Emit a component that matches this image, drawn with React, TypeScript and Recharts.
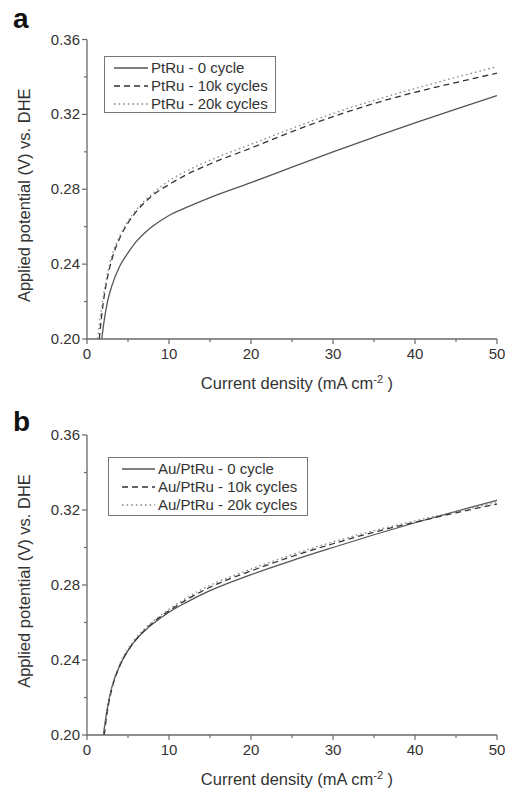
import React from 'react';
import { LineChart, Line, XAxis, YAxis, Legend } from 'recharts';

// ---------- data ----------
const xTicks = [0, 5, 10, 15, 20, 25, 30, 35, 40, 45, 50];
const xLabelTicks = [0, 10, 20, 30, 40, 50];
const yTicks = [0.2, 0.22, 0.24, 0.26, 0.28, 0.3, 0.32, 0.34, 0.36];
const yLabelTicks = [0.2, 0.24, 0.28, 0.32, 0.36];

// Panel a
const aLabels = ['PtRu - 0 cycle', 'PtRu - 10k cycles', 'PtRu - 20k cycles'];
const a0X = [1.8, 2.0, 2.5, 3, 4, 5, 6, 7, 8, 10, 12, 15, 20, 25, 30, 35, 40, 45, 50];
const a0V = [0.2, 0.207, 0.22, 0.228, 0.239, 0.246, 0.252, 0.2565, 0.2602, 0.266, 0.27, 0.2755, 0.2835, 0.2918, 0.3, 0.3078, 0.3154, 0.3228, 0.33];
const a10X = [1.5, 1.8, 2.0, 2.5, 3, 4, 5, 6, 7, 8, 10, 12, 15, 20, 25, 30, 35, 40, 45, 50];
const a10V = [0.2, 0.213, 0.22, 0.233, 0.242, 0.254, 0.262, 0.268, 0.2728, 0.2768, 0.2825, 0.2875, 0.2935, 0.302, 0.3108, 0.3188, 0.3258, 0.3318, 0.337, 0.342];
const a20X = [1.3, 1.5, 1.8, 2.0, 2.5, 3, 4, 5, 6, 7, 8, 10, 12, 15, 20, 25, 30, 35, 40, 45, 50];
const a20V = [0.2, 0.208, 0.217, 0.223, 0.235, 0.244, 0.255, 0.263, 0.269, 0.2738, 0.2778, 0.2845, 0.2895, 0.2955, 0.304, 0.3125, 0.3205, 0.3275, 0.3338, 0.3398, 0.3455];

// Panel b
const bLabels = ['Au/PtRu - 0 cycle', 'Au/PtRu - 10k cycles', 'Au/PtRu - 20k cycles'];
const b0X = [2.0, 2.5, 3, 4, 5, 6, 7, 8, 10, 12, 15, 20, 25, 30, 35, 40, 45, 50];
const b0V = [0.2, 0.215, 0.225, 0.237, 0.245, 0.251, 0.2555, 0.2592, 0.2655, 0.2705, 0.277, 0.2855, 0.293, 0.3, 0.3068, 0.3132, 0.3193, 0.3252];
const b10X = [2.1, 2.5, 3, 4, 5, 6, 7, 8, 10, 12, 15, 20, 25, 30, 35, 40, 45, 50];
const b10V = [0.2, 0.213, 0.224, 0.237, 0.245, 0.251, 0.2558, 0.2598, 0.2662, 0.2718, 0.2788, 0.2875, 0.2952, 0.302, 0.3082, 0.3135, 0.3185, 0.3232];
const b20X = [2.0, 2.5, 3, 4, 5, 6, 7, 8, 10, 12, 15, 20, 25, 30, 35, 40, 45, 50];
const b20V = [0.2, 0.214, 0.225, 0.238, 0.246, 0.252, 0.2565, 0.2605, 0.267, 0.2728, 0.2798, 0.2885, 0.2962, 0.303, 0.309, 0.3142, 0.3192, 0.324];

const zip = (xs: number[], vs: number[]) => xs.map((x, i) => ({ x, v: vs[i] }));

// ---------- styles ----------
const FONT = '"Liberation Sans", Arial, Helvetica, sans-serif';
const AXIS = '#6a6a6a';
const TEXT = '#333';
const SERIES_STYLES = [
  { stroke: '#555', dash: undefined as string | undefined, width: 1.3 },
  { stroke: '#333', dash: '6 4', width: 1.3 },
  { stroke: '#888', dash: '1.6 3', width: 1.3 },
];

const isMajorX = (v: number) => xLabelTicks.some((t) => Math.abs(t - v) < 1e-6);
const isMajorY = (v: number) => yLabelTicks.some((t) => Math.abs(t - v) < 1e-6);

const BottomTick = (p: any) => {
  const { x, y, payload } = p;
  const major = isMajorX(payload.value);
  return (
    <g>
      <line x1={x} x2={x} y1={y} y2={y + (major ? 5 : 3)} stroke={AXIS} strokeWidth={1.2} />
      {major && (
        <text x={x} y={y + 20} textAnchor="middle" fontSize={15} fill={TEXT} fontFamily={FONT}>
          {payload.value}
        </text>
      )}
    </g>
  );
};

const TopTick = (p: any) => {
  const { x, y, payload } = p;
  const major = isMajorX(payload.value);
  return <line x1={x} x2={x} y1={y} y2={y + (major ? 4 : 3)} stroke={AXIS} strokeWidth={1.2} />;
};

const LeftTick = (p: any) => {
  const { x, y, payload } = p;
  const major = isMajorY(payload.value);
  return (
    <g>
      <line x1={x} x2={x - (major ? 5 : 3)} y1={y} y2={y} stroke={AXIS} strokeWidth={1.2} />
      {major && (
        <text x={x - 7} y={y + 5} textAnchor="end" fontSize={15} fill={TEXT} fontFamily={FONT}>
          {Number(payload.value).toFixed(2)}
        </text>
      )}
    </g>
  );
};

const RightTick = (p: any) => {
  const { x, y, payload } = p;
  const major = isMajorY(payload.value);
  return <line x1={x} x2={x - (major ? 4 : 3)} y1={y} y2={y} stroke={AXIS} strokeWidth={1.2} />;
};

type PanelProps = {
  letter: string;
  letterTop: number;
  labels: string[];
  series: { x: number; v: number }[][];
  marginTop: number;
  marginBottom: number;
  yTitleOffset: number;
  legendBox: { left: number; top: number; width: number; height: number; sampleLeft: number; sampleWidth: number };
};

const Panel = ({ letter, letterTop, labels, series, marginTop, marginBottom, yTitleOffset, legendBox }: PanelProps) => {
  const legendContent = () => (
    <div
      style={{
        width: legendBox.width,
        height: legendBox.height,
        boxSizing: 'border-box',
        border: '1.3px solid #777',
        paddingTop: 2,
        paddingLeft: legendBox.sampleLeft - 1,
        fontFamily: FONT,
        fontSize: 15,
        color: TEXT,
        background: '#fff',
      }}
    >
      {labels.map((l, i) => (
        <div key={l} style={{ display: 'flex', alignItems: 'center', height: 18, lineHeight: '18px' }}>
          <svg width={legendBox.sampleWidth} height={6} style={{ display: 'block' }}>
            <line
              x1={0}
              x2={legendBox.sampleWidth}
              y1={3}
              y2={3}
              stroke={SERIES_STYLES[i].stroke}
              strokeWidth={1.3}
              strokeDasharray={SERIES_STYLES[i].dash}
            />
          </svg>
          <span style={{ marginLeft: 3, whiteSpace: 'nowrap' }}>{l}</span>
        </div>
      ))}
    </div>
  );

  return (
    <div style={{ position: 'relative', width: 505, height: 394 }}>
      <div
        style={{
          position: 'absolute',
          left: 13,
          top: letterTop,
          fontFamily: FONT,
          fontWeight: 'bold',
          fontSize: 28,
          lineHeight: '30px',
          color: '#111',
          zIndex: 2,
        }}
      >
        {letter}
      </div>
      <LineChart width={505} height={394} margin={{ top: marginTop, right: 8, bottom: marginBottom, left: 27 }}>
        <XAxis
          xAxisId="bottom"
          dataKey="x"
          type="number"
          domain={[0, 50]}
          ticks={xTicks}
          interval={0}
          allowDataOverflow
          height={30}
          tickSize={0}
          tickMargin={0}
          tickLine={false}
          axisLine={{ stroke: AXIS, strokeWidth: 1.3 }}
          tick={<BottomTick />}
          label={{
            content: (props: any) => {
              const vb = props.viewBox || { x: 87, y: 339, width: 410 };
              return (
                <text
                  x={vb.x + vb.width / 2 + 5}
                  y={vb.y + 50}
                  textAnchor="middle"
                  fontSize={16.5}
                  fill={TEXT}
                  fontFamily={FONT}
                >
                  Current density (mA cm
                  <tspan dy={-6} fontSize={11}>
                    -2
                  </tspan>
                  <tspan dy={6}> )</tspan>
                </text>
              );
            },
          }}
        />
        <XAxis
          xAxisId="top"
          orientation="top"
          dataKey="x"
          type="number"
          domain={[0, 50]}
          ticks={xTicks}
          interval={0}
          allowDataOverflow
          height={0}
          tickSize={0}
          tickMargin={0}
          tickLine={false}
          axisLine={{ stroke: AXIS, strokeWidth: 1.3 }}
          tick={<TopTick />}
        />
        <YAxis
          yAxisId="left"
          type="number"
          domain={[0.2, 0.36]}
          ticks={yTicks}
          interval={0}
          allowDataOverflow
          width={60}
          tickSize={0}
          tickMargin={0}
          tickLine={false}
          axisLine={{ stroke: AXIS, strokeWidth: 1.3 }}
          tick={<LeftTick />}
          label={{
            content: (props: any) => {
              const vb = props.viewBox || { x: 27, y: 40, width: 60, height: 300 };
              const cy = vb.y + vb.height / 2 + yTitleOffset;
              return (
                <text
                  x={30}
                  y={cy}
                  transform={`rotate(-90 30 ${cy})`}
                  textAnchor="middle"
                  fontSize={16.5}
                  fill={TEXT}
                  fontFamily={FONT}
                >
                  Applied potential (V) vs. DHE
                </text>
              );
            },
          }}
        />
        <YAxis
          yAxisId="right"
          orientation="right"
          type="number"
          domain={[0.2, 0.36]}
          ticks={yTicks}
          interval={0}
          allowDataOverflow
          width={0}
          tickSize={0}
          tickMargin={0}
          tickLine={false}
          axisLine={{ stroke: AXIS, strokeWidth: 1.3 }}
          tick={<RightTick />}
        />
        <Legend
          layout="vertical"
          align="center"
          verticalAlign="middle"
          content={legendContent}
          wrapperStyle={{ position: 'absolute', left: legendBox.left, top: legendBox.top, width: legendBox.width }}
        />
        {series.map((d, i) => (
          <Line
            key={labels[i]}
            name={labels[i]}
            xAxisId="bottom"
            yAxisId="left"
            data={d}
            dataKey="v"
            type="monotone"
            stroke={SERIES_STYLES[i].stroke}
            strokeWidth={SERIES_STYLES[i].width}
            strokeDasharray={SERIES_STYLES[i].dash}
            dot={false}
            activeDot={false}
            isAnimationActive={false}
          />
        ))}
      </LineChart>
    </div>
  );
};

export default function App() {
  return (
    <div style={{ position: 'absolute', left: 0, top: 0, width: 505, height: 788, background: '#fff' }}>
      <Panel
        letter="a"
        letterTop={4}
        labels={aLabels}
        series={[zip(a0X, a0V), zip(a10X, a10V), zip(a20X, a20V)]}
        marginTop={39.5}
        marginBottom={25}
        yTitleOffset={6}
        legendBox={{ left: 104, top: 56, width: 172, height: 57, sampleLeft: 10, sampleWidth: 34 }}
      />
      <Panel
        letter="b"
        letterTop={13}
        labels={bLabels}
        series={[zip(b0X, b0V), zip(b10X, b10V), zip(b20X, b20V)]}
        marginTop={41}
        marginBottom={23}
        yTitleOffset={-4}
        legendBox={{ left: 108, top: 63, width: 200, height: 59, sampleLeft: 14, sampleWidth: 33 }}
      />
    </div>
  );
}
